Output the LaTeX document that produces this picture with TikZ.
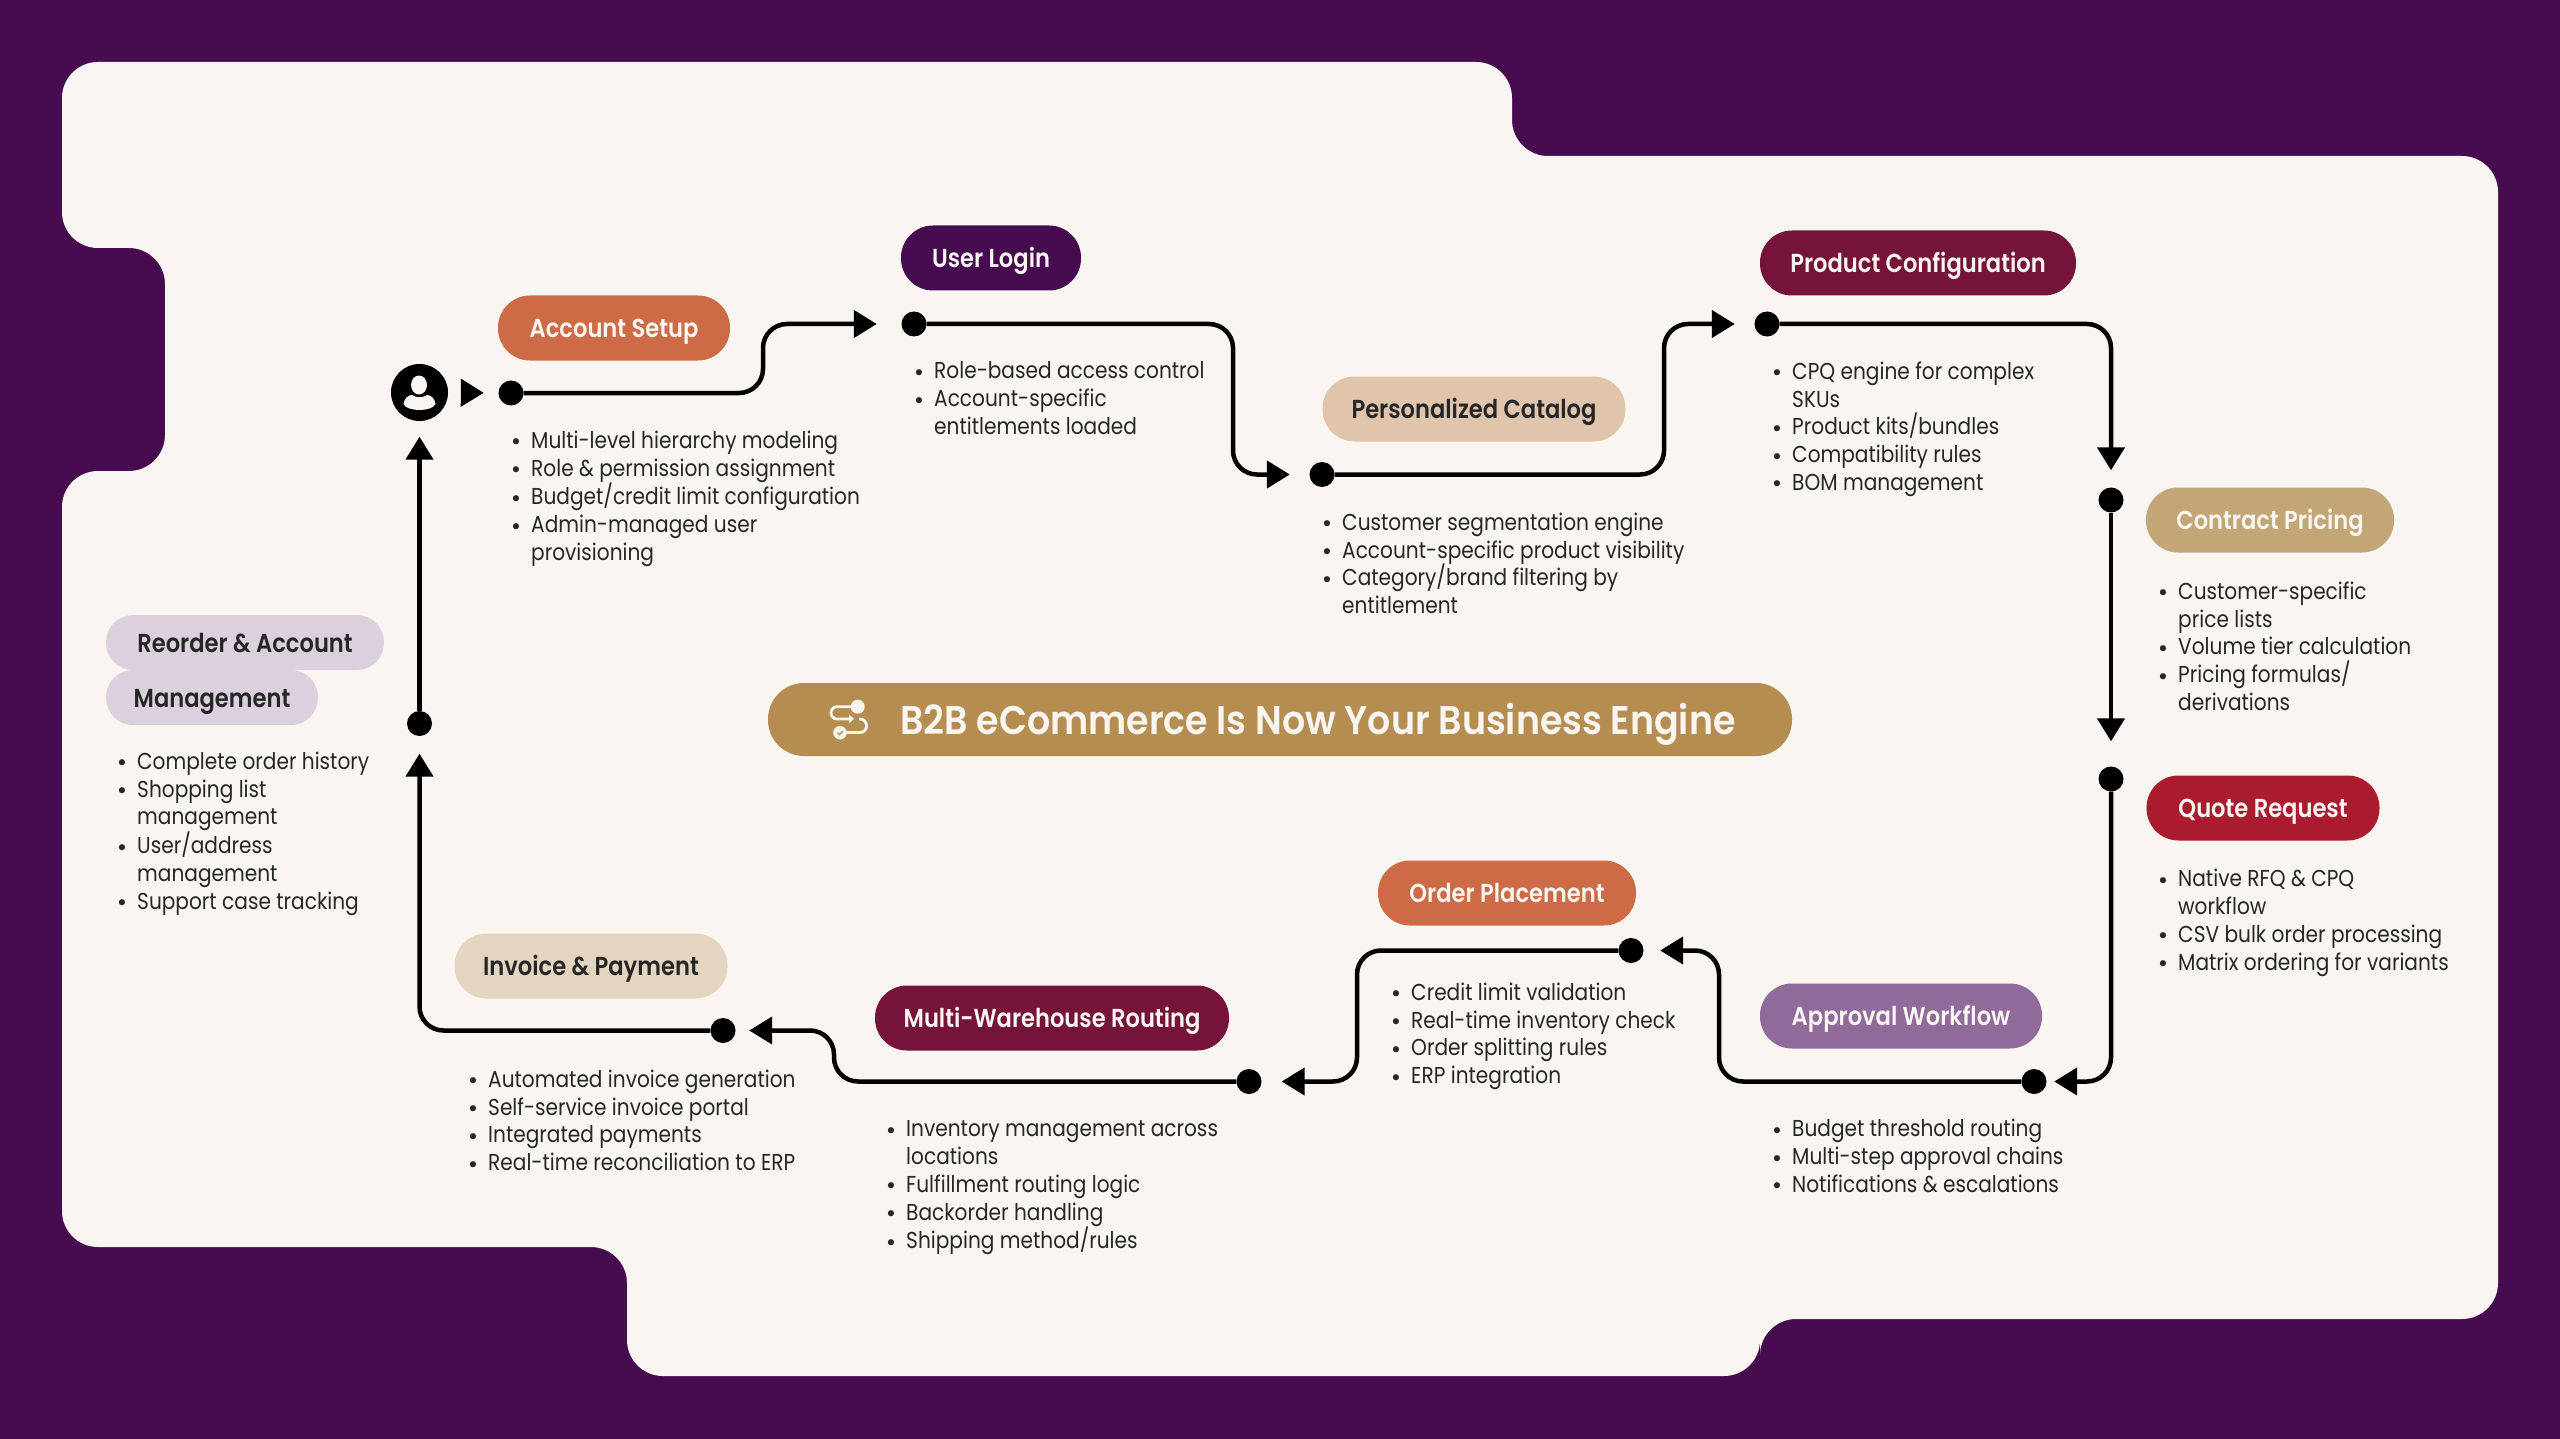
\documentclass[tikz,border=0pt]{standalone}
\usepackage{fontspec}
\usetikzlibrary{arrows.meta}
\setmainfont[FakeStretch=0.875]{Poppins}
\newfontfamily\pillfont[FakeStretch=0.87]{Poppins SemiBold}
\newfontfamily\titlefont[FakeStretch=0.91]{Poppins SemiBold}
\newfontfamily\bulfont{DejaVu Sans}
\definecolor{plum}{RGB}{71,11,79}
\definecolor{paper}{RGB}{249,246,241}
\definecolor{rust}{RGB}{204,107,70}
\definecolor{sand}{RGB}{224,196,171}
\definecolor{wine}{RGB}{117,19,59}
\definecolor{khaki}{RGB}{195,166,118}
\definecolor{crimson}{RGB}{170,27,48}
\definecolor{mauve}{RGB}{143,106,154}
\definecolor{cream}{RGB}{228,213,192}
\definecolor{lilac}{RGB}{220,208,223}
\definecolor{ochre}{RGB}{181,141,80}
\newcommand{\bul}{\rule{0pt}{20pt}\llap{\bulfont\fontsize{21}{27.8}\selectfont\raisebox{-1.5pt}{\textbullet}\hspace{9pt}}}
\tikzset{
  pill/.style={rectangle,rounded corners=32pt,minimum height=65pt,inner sep=0pt,text height=25pt,text depth=6pt,font=\pillfont\fontsize{26}{30}\selectfont},
  darkpill/.style={pill,text=paper},
  lightpill/.style={pill,text=black!85},
  dot/.style={circle,fill=black,minimum size=25pt,inner sep=0pt},
  flow/.style={-{Triangle[length=23pt,width=27pt]},line width=4.5pt,rounded corners=24pt},
  notes/.style={anchor=north west,align=left,inner sep=0pt,text=black!85,font=\fontsize{23}{27.8}\selectfont}
}
\begin{document}
\begin{tikzpicture}[x=1pt,y=-1pt]
\useasboundingbox (0,0) rectangle (2560,1439);
\fill[plum] (0,0) rectangle (2560,1439);
% card
\fill[paper,rounded corners=36pt] (62,62) -- (1512,62) -- (1512,156) -- (2498,156) -- (2498,1319) -- (1760,1319) -- (1760,1376) -- (627,1376) -- (627,1247) -- (62,1247) -- (62,471) -- (165,471) -- (165,248) -- (62,248) -- cycle;

% title
\node[rectangle,rounded corners=36pt,fill=ochre,minimum width=1024pt,minimum height=73pt] (title) at (1280,719.5) {};
\node[text=paper,text height=38pt,text depth=10pt,inner sep=0pt,font=\titlefont\fontsize{40}{46}\selectfont] (titletext) at (1318,720) {B2B eCommerce Is Now Your Business Engine};
\draw[paper,line width=2.8pt,rounded corners=6pt] (852,706.7) -- (831,706.7) -- (831,719) -- (850,719);
\fill[paper] (854,719) -- (849,714.5) -- (849,723.5) -- cycle;
\draw[paper,line width=2.8pt,rounded corners=6.5pt] (859,719) -- (866.5,719) -- (866.5,732.5) -- (846,732.5);
\fill[paper] (857.7,706.7) circle (7pt);
\fill[paper] (840,732.7) circle (6.8pt);
\draw[ochre,line width=1.3pt] (837.5,732.7) -- (839.5,734.7) -- (843,731);

% pills
\node[darkpill,fill=rust,minimum width=232pt] (setup) at (614,328) {Account Setup};
\node[darkpill,fill=plum,minimum width=180pt] (login) at (991,258) {User Login};
\node[lightpill,fill=sand,minimum width=303pt] (catalog) at (1474,409) {Personalized Catalog};
\node[darkpill,fill=wine,minimum width=316pt] (config) at (1918,263) {Product Configuration};
\node[darkpill,fill=khaki,minimum width=248pt] (pricing) at (2270,520) {Contract Pricing};
\node[darkpill,fill=crimson,minimum width=233pt] (quote) at (2263,808) {Quote Request};
\node[darkpill,fill=mauve,minimum width=282pt] (approval) at (1901,1016) {Approval Workflow};
\node[darkpill,fill=rust,minimum width=258pt] (order) at (1507,893) {Order Placement};
\node[darkpill,fill=wine,minimum width=354pt] (routing) at (1052,1018) {Multi-Warehouse Routing};
\node[lightpill,fill=cream,minimum width=273pt] (invoice) at (591,966) {Invoice \& Payment};
\node[lightpill,fill=lilac,minimum width=278pt,minimum height=55pt,rounded corners=27pt] (reorder) at (245,642.5) {Reorder \& Account};
\node[lightpill,fill=lilac,minimum width=212pt,minimum height=55pt,rounded corners=27pt] (manage) at (212,697.5) {Management};

% dots
\node[dot,minimum size=57pt] (user) at (419.5,392.5) {};
\fill[paper] (419,385) ellipse (8pt and 9.5pt);
\fill[paper] (403.5,404) .. controls (404,398) and (409,395) .. (412,395) .. controls (416,398) and (423,398) .. (427,395) .. controls (430,395) and (435,398) .. (435.5,404) .. controls (432,412) and (407,412) .. (403.5,404) -- cycle;
\node[dot] (d1) at (511,393) {};
\node[dot] (d2) at (914,324) {};
\node[dot] (d3) at (1322,474.5) {};
\node[dot] (d4) at (1767,324) {};
\node[dot] (d5) at (2111,500) {};
\node[dot] (d6) at (2111,779) {};
\node[dot] (d7) at (2034,1081.5) {};
\node[dot] (d8) at (1631,950.5) {};
\node[dot] (d9) at (1249,1081.5) {};
\node[dot] (d10) at (723,1030.5) {};
\node[dot] (d11) at (419.5,723.5) {};

% bends
\coordinate (b1) at (763,360);
\coordinate (b2) at (1233,400);
\coordinate (b3) at (1664,400);
\coordinate (b6) at (1719,1020);
\coordinate (b7) at (1357,1020);
\coordinate (b8) at (834,1050);

% connectors
\draw[flow,shorten <=13pt,shorten >=14.5pt] (user) -- (d1);
\draw[flow,shorten >=24.5pt] (d1) -- (d1 -| b1) -- (d2 -| b1) -- (d2);
\draw[flow,shorten >=19.5pt] (d2) -- (d2 -| b2) -- (d3 -| b2) -- (d3);
\draw[flow,shorten >=19.5pt] (d3) -- (d3 -| b3) -- (d4 -| b3) -- (d4);
\draw[flow,shorten >=17pt] (d4) -| (d5);
\draw[flow,shorten >=25pt] (d5) -- (d6);
\draw[flow,shorten >=7.5pt] (d6) |- (d7);
\draw[flow,shorten >=16.5pt] (d7) -- (d7 -| b6) -- (d8 -| b6) -- (d8);
\draw[flow,shorten >=20pt] (d8) -- (d8 -| b7) -- (d9 -| b7) -- (d9);
\draw[flow,shorten >=13.5pt] (d9) -- (d9 -| b8) -- (d10 -| b8) -- (d10);
\draw[flow,shorten >=17.5pt] (d10) -| (d11);
\draw[flow,shorten >=15.5pt] (d11) -- (user);

% lists
\node[notes] (n1) at (531,428) {\bul Multi-level hierarchy modeling\\\bul Role \& permission assignment\\\bul Budget/credit limit configuration\\\bul Admin-managed user\\provisioning};
\node[notes] (n2) at (934,358.5) {\bul Role-based access control\\\bul Account-specific\\entitlements loaded};
\node[notes] (n3) at (1342,510) {\bul Customer segmentation engine\\\bul Account-specific product visibility\\\bul Category/brand filtering by\\entitlement};
\node[notes] (n4) at (1792,359) {\bul CPQ engine for complex\\SKUs\\\bul Product kits/bundles\\\bul Compatibility rules\\\bul BOM management};
\node[notes] (n5) at (2178,579) {\bul Customer-specific\\price lists\\\bul Volume tier calculation\\\bul Pricing formulas/\\derivations};
\node[notes] (n6) at (2178,866.5) {\bul Native RFQ \& CPQ\\workflow\\\bul CSV bulk order processing\\\bul Matrix ordering for variants};
\node[notes] (n7) at (1792,1116.5) {\bul Budget threshold routing\\\bul Multi-step approval chains\\\bul Notifications \& escalations};
\node[notes] (n8) at (1411,980) {\bul Credit limit validation\\\bul Real-time inventory check\\\bul Order splitting rules\\\bul ERP integration};
\node[notes] (n9) at (906,1116.5) {\bul Inventory management across\\locations\\\bul Fulfillment routing logic\\\bul Backorder handling\\\bul Shipping method/rules};
\node[notes] (n10) at (488,1067) {\bul Automated invoice generation\\\bul Self-service invoice portal\\\bul Integrated payments\\\bul Real-time reconciliation to ERP};
\node[notes] (n11) at (137,749) {\bul Complete order history\\\bul Shopping list\\management\\\bul User/address\\management\\\bul Support case tracking};
\end{tikzpicture}
\end{document}
